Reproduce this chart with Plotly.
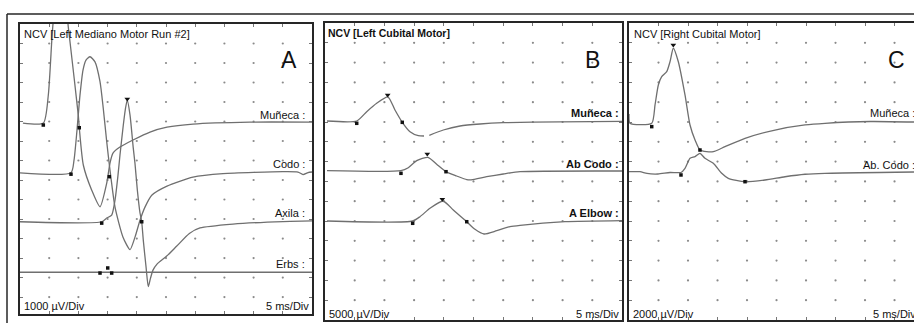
import plotly.graph_objects as go

# ---------------- data (time in ms, amplitude in mV relative to each channel baseline) ----------------
A_TITLE = "NCV [Left Mediano Motor Run #2]"
B_TITLE = "NCV [Left Cubital Motor]"
C_TITLE = "NCV [Right Cubital Motor]"
A_SENS, B_SENS, C_SENS = "1000 µV/Div", "5000 µV/Div", "2000 µV/Div"
SWEEP = "5 ms/Div"
A_LABELS = ["Muñeca :", "Codo :", "Axila :", "Erbs :"]
B_LABELS = ["Muñeca :", "Ab Codo :", "A Elbow :"]
C_LABELS = ["Muñeca :", "Ab. Codo :"]
PANEL_LETTERS = ["A", "B", "C"]

# Panel A
A_MUNECA_T = [0.5, 4.0, 4.85, 5.43, 5.65, 6.34, 7.02, 7.88, 8.22, 8.56, 9.98, 10.15, 10.84, 12.28, 13.70,
              14.85, 15.41, 15.92, 17.12, 19.35, 22.26, 25.17, 29.62, 39.38, 50.0]
A_MUNECA_MV = [0, 0, 1.44, 4.17, 5.08, 6.82, 7.44, 6.82, 5.08, 4.17, 0.41, -0.24, -2.15, -3.44, -4.29,
               -3.08, -2.05, -1.54, -1.23, -0.87, -0.46, -0.21, -0.05, 0.05, 0.05]
A_CODO_T = [0, 8.73, 9.25, 9.76, 10.27, 10.79, 11.30, 11.99, 12.84, 13.70, 14.26, 14.85, 15.41, 16.27, 17.64,
            18.84, 19.69, 20.55, 21.40, 22.60, 25.17, 29.62, 34.76, 45.03, 47.60, 48.46, 49.32, 50.0]
A_CODO_MV = [0, 0, 0.65, 2.19, 3.98, 5.27, 5.78, 5.95, 5.69, 4.67, 3.30, 1.59, 0.14, -1.76, -3.30,
             -3.94, -3.30, -2.43, -1.76, -1.14, -0.68, -0.22, -0.04, 0.06, 0.04, -0.09, 0.01, 0.04]
A_AXILA_T = [0, 13.99, 14.85, 15.70, 16.27, 16.78, 17.12, 17.69, 18.07, 18.37, 18.84, 19.40, 19.69, 20.09,
             20.55, 20.84, 21.11, 21.58, 21.97, 22.35, 22.77, 23.46, 25.12, 26.8, 29.0, 30.82, 36.47, 45.03, 50.0]
A_AXILA_MV = [0, 0, 0.19, 0.34, 1.11, 2.39, 3.42, 4.96, 5.83, 6.24, 5.47, 3.76, 2.99, 1.63,
              0.45, 0, -0.94, -2.31, -3.33, -2.89, -2.48, -2.17, -1.76, -1.26, -0.6, -0.32, -0.12, 0.01, 0.04]
A_ERBS_T = [0, 50.0]
A_ERBS_MV = [0, 0]
A_ONSET_T = [[3.99, 10.15], [8.73, 15.29], [13.99, 20.84], [13.7, 15.02, 15.7]]
A_ONSET_MV = [[-0.1, -0.24], [-0.07, -0.2], [-0.07, 0.0], [-0.04, 0.22, -0.04]]
A_PEAK_T = [[], [], [18.37], []]
A_PEAK_MV = [[], [], [6.3], []]

# Panel B
B_MUNECA_T = [0.34, 5.34, 7.02, 8.70, 10.61, 11.78, 13.01, 14.31, 15.71, 16.67, None,
              17.56, 19.92, 22.73, 26.09, 30.02, 39.56, 50.0]
B_MUNECA_MV = [0, 0, 2.35, 4.47, 6.06, 2.78, -0.33, -2.70, -3.71, -3.79, None,
               -3.61, -2.27, -1.26, -0.76, -0.43, -0.2, -0.08]
B_ABCODO_T = [0.34, 12.79, 14.02, 15.44, 17.34, 18.80, 20.37, 22.17, 23.86, 24.6, 27.22, 30.02, 32.83, 50.0]
B_ABCODO_MV = [0, 0, 0.76, 2.53, 3.38, 1.62, -0.25, -1.34, -2.25, -2.3, -1.52, -0.83, -0.25, -0.08]
B_AELBOW_T = [0.34, 14.76, 15.99, 17.68, 19.87, 21.6, 23.86, 25.25, 26.77, 28.91, 31.14, 32.83, 40.40, 50.0]
B_AELBOW_MV = [0, 0, 1.09, 3.21, 5.05, 2.78, -0.18, -2.10, -3.28, -2.45, -1.44, -1.09, -0.18, 0.08]
B_ONSET_T = [[5.34, 13.01], [12.79, 20.37], [14.76, 23.86]]
B_ONSET_MV = [[-0.58, -0.33], [-0.66, -0.25], [-0.58, -0.18]]
B_PEAK_T = [[10.55], [17.22], [19.75]]
B_PEAK_MV = [[6.57], [4.22], [5.48]]

# Panel C
C_MUNECA_T = [0.0, 0.17, 3.85, 4.41, 4.97, 5.54, 6.39, 6.95, 7.51, 8.36, 9.49, 10.34, 11.19, 12.03,
              13.17, 14.29, 16.27, 19.66, 24.75, 29.83, 33.22, 40.85, 48.3]
C_MUNECA_MV = [0.94, 0, 0, 1.85, 3.87, 4.71, 5.21, 6.22, 7.58, 6.22, 2.86, -0.17, -1.69, -2.70,
               -2.87, -2.87, -2.36, -1.52, -0.68, -0.17, 0, 0.18, 0.13]
C_ABCODO_T = [0, 1.86, 3.05, 4.92, 6.95, 8.81, 9.49, 10.34, 11.19, 12.03, 12.88, 14.29, 15.71, 16.83,
              19.66, 23.05, 26.44, 29.83, 33.22, 48.3]
C_ABCODO_MV = [0, 0, -0.18, -0.23, -0.08, -0.08, 0.34, 1.35, 1.52, 1.86, 1.35, 0.85, -0.16, -0.67,
               -1.01, -0.84, -0.51, -0.26, -0.16, -0.03]
C_ONSET_T = [[3.85, 12.03], [8.81, 19.66]]
C_ONSET_MV = [[-0.34, -2.70], [-0.33, -1.01]]
C_PEAK_T = [[7.51], []]
C_PEAK_MV = [[7.9], []]

# ---------------- layout (pixel geometry) ----------------
W, H = 914, 323
FONT = "Liberation Sans, Arial, sans-serif"
TRACE_COLOR = "#6f6f6f"
BORDER = "#262626"


def px(x):
    return x / W


def py(y):
    return 1 - y / H


PANELS = [
    dict(name="A", x0=20, x1=312, y0=24, y1=314, xr=[0, 50], yr=[0.13, 15], ydiv=1,
         bases=[9.92, 7.37, 4.86, 2.27], mirror_y="ticks",
         series=[(A_MUNECA_T, A_MUNECA_MV), (A_CODO_T, A_CODO_MV), (A_AXILA_T, A_AXILA_MV), (A_ERBS_T, A_ERBS_MV)],
         onset=(A_ONSET_T, A_ONSET_MV), peak=(A_PEAK_T, A_PEAK_MV),
         labels=A_LABELS, label_x=307, label_y=[115, 164, 213, 264], label_bold=False,
         title=A_TITLE, title_xy=(22, 34), title_bold=False, title_size=11,
         letter_xy=(288.7, 60), sens=A_SENS, bottom_y=306, sweep_x=311),
    dict(name="B", x0=325, x1=622, y0=23, y1=320, xr=[0, 50], yr=[0, 75], ydiv=5,
         bases=[50.25, 37.7, 25.0], mirror_y="ticks",
         series=[(B_MUNECA_T, B_MUNECA_MV), (B_ABCODO_T, B_ABCODO_MV), (B_AELBOW_T, B_AELBOW_MV)],
         onset=(B_ONSET_T, B_ONSET_MV), peak=(B_PEAK_T, B_PEAK_MV),
         labels=B_LABELS, label_x=621, label_y=[113, 164, 213], label_bold=True,
         title=B_TITLE, title_xy=(326, 33), title_bold=True, title_size=10.5,
         letter_xy=(592.5, 60), sens=B_SENS, bottom_y=314, sweep_x=621),
    dict(name="C", x0=629, x1=914, y0=23, y1=320, xr=[0, 48.3], yr=[0, 30], ydiv=2,
         bases=[19.87, 14.98], mirror_y=False,
         series=[(C_MUNECA_T, C_MUNECA_MV), (C_ABCODO_T, C_ABCODO_MV)],
         onset=(C_ONSET_T, C_ONSET_MV), peak=(C_PEAK_T, C_PEAK_MV),
         labels=C_LABELS, label_x=917, label_y=[113, 165], label_bold=False,
         title=C_TITLE, title_xy=(632, 34), title_bold=False, title_size=11,
         letter_xy=(896, 60), sens=C_SENS, bottom_y=314, sweep_x=918),
]

fig = go.Figure()
layout = dict(width=W, height=H, margin=dict(l=0, r=0, t=0, b=0),
              paper_bgcolor="white", plot_bgcolor="white", showlegend=False, hovermode=False)
annotations = []
shapes = []

for i, p in enumerate(PANELS):
    sfx = "" if i == 0 else str(i + 1)
    xa, ya = "x" + sfx, "y" + sfx
    axcommon = dict(showgrid=False, zeroline=False, showticklabels=False, showline=True,
                    linecolor=BORDER, linewidth=2, ticks="inside", ticklen=3, tickwidth=1,
                    tickcolor="#777", tick0=0, fixedrange=True)
    layout["xaxis" + sfx] = dict(axcommon, domain=[px(p["x0"]), px(p["x1"])], range=p["xr"],
                                 dtick=5, anchor=ya, mirror="ticks")
    layout["yaxis" + sfx] = dict(axcommon, domain=[py(p["y1"]), py(p["y0"])], range=p["yr"],
                                 dtick=p["ydiv"], anchor=xa, mirror=p["mirror_y"])

    # grid dots at division intersections
    gx, gy = [], []
    k = 5
    while k < p["xr"][1] - 0.5:
        j = p["ydiv"]
        while j < p["yr"][1] - 0.01:
            gx.append(k)
            gy.append(j)
            j += p["ydiv"]
        k += 5
    fig.add_trace(go.Scatter(x=gx, y=gy, mode="markers", xaxis=xa, yaxis=ya, hoverinfo="skip",
                             marker=dict(size=2.2, color="#8a8a8a")))

    # waveforms
    for (t, mv), base in zip(p["series"], p["bases"]):
        yy = [None if v is None else v + base for v in mv]
        fig.add_trace(go.Scatter(x=t, y=yy, mode="lines", xaxis=xa, yaxis=ya, connectgaps=False,
                                 line=dict(color=TRACE_COLOR, width=1.3, shape="spline", smoothing=0.6),
                                 hoverinfo="skip"))
    # cursor markers
    for (ot, om), base in zip(zip(*p["onset"]), p["bases"]):
        if ot:
            fig.add_trace(go.Scatter(x=ot, y=[v + base for v in om], mode="markers", xaxis=xa, yaxis=ya,
                                     marker=dict(symbol="square", size=3.5, color="#111"), hoverinfo="skip"))
    for (pt, pm), base in zip(zip(*p["peak"]), p["bases"]):
        if pt:
            fig.add_trace(go.Scatter(x=pt, y=[v + base for v in pm], mode="markers", xaxis=xa, yaxis=ya,
                                     marker=dict(symbol="triangle-down", size=5, color="#111"),
                                     hoverinfo="skip"))

    # texts
    tb = (lambda s, b: f"<b>{s}</b>" if b else s)
    annotations.append(dict(xref="paper", yref="paper", x=px(p["title_xy"][0]), y=py(p["title_xy"][1]),
                            xanchor="left", yanchor="middle", showarrow=False,
                            text=tb(p["title"], p["title_bold"]),
                            font=dict(family=FONT, size=p["title_size"], color="#111")))
    annotations.append(dict(xref="paper", yref="paper", x=px(p["letter_xy"][0]), y=py(p["letter_xy"][1]),
                            xanchor="center", yanchor="middle", showarrow=False, text=PANEL_LETTERS[i],
                            font=dict(family=FONT, size=23, color="#111")))
    for lab, ly in zip(p["labels"], p["label_y"]):
        annotations.append(dict(xref="paper", yref="paper", x=px(p["label_x"]), y=py(ly),
                                xanchor="right", yanchor="middle", showarrow=False,
                                text=tb(lab, p["label_bold"]),
                                font=dict(family=FONT, size=11, color="#111")))
    annotations.append(dict(xref="paper", yref="paper", x=px(p["x0"] + 2), y=py(p["bottom_y"]),
                            xanchor="left", yanchor="middle", showarrow=False, text=p["sens"],
                            font=dict(family=FONT, size=11, color="#111")))
    annotations.append(dict(xref="paper", yref="paper", x=px(p["sweep_x"]), y=py(p["bottom_y"]),
                            xanchor="right", yanchor="middle", showarrow=False, text=SWEEP,
                            font=dict(family=FONT, size=11, color="#111")))

# outer frame
shapes.append(dict(type="line", xref="paper", yref="paper", x0=px(7), x1=1.0, y0=py(14), y1=py(14),
                   line=dict(color=BORDER, width=1.5)))
shapes.append(dict(type="line", xref="paper", yref="paper", x0=px(7), x1=px(7), y0=py(14), y1=0,
                   line=dict(color=BORDER, width=1.5)))

layout["annotations"] = annotations
layout["shapes"] = shapes
fig.update_layout(**layout)
fig.write_html("out.html", config={"displayModeBar": False, "staticPlot": True},
               post_script="document.body.style.margin='0';document.body.style.overflow='hidden';")
